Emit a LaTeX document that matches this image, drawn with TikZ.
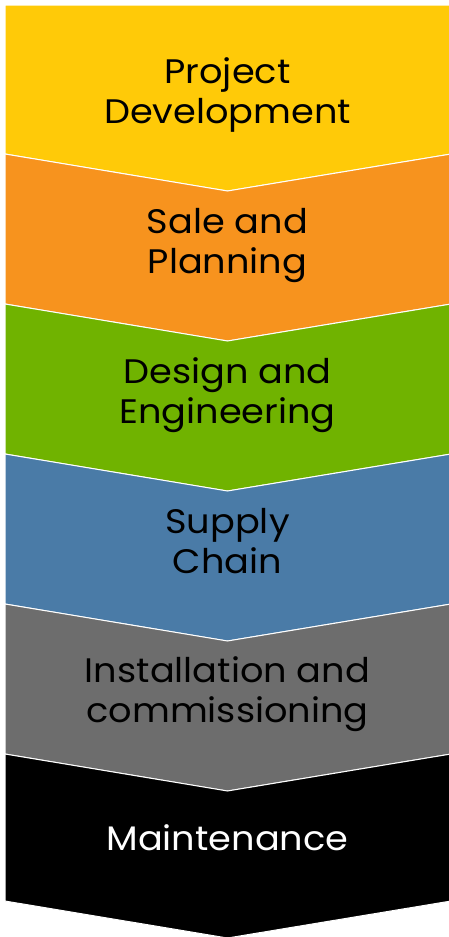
\documentclass[tikz,border=0pt]{standalone}
\usepackage{fontspec}
\setmainfont{Poppins}[FakeStretch=1.08]
\definecolor{cyellow}{HTML}{FFCA08}
\definecolor{corange}{HTML}{F7931E}
\definecolor{cgreen}{HTML}{70B300}
\definecolor{cblue}{HTML}{4A7BA7}
\definecolor{cgray}{HTML}{6D6D6D}
\definecolor{cblack}{HTML}{000000}
\begin{document}
\begin{tikzpicture}[x=1pt,y=-1pt,
  chev/.style={draw=white,line width=1pt,line join=miter},
  lbl/.style={font=\fontsize{34}{40}\selectfont,align=center,text=black,anchor=base,inner sep=0pt}]
\useasboundingbox (0,0) rectangle (449,937);
\clip (0,0) rectangle (449,937);
% shapes
\fill[white] (0,0) rectangle (449,937);
\path[chev,fill=cyellow] (5,5) -- (451,5) -- (451,154) -- (227.5,191) -- (5,154) -- cycle;
\path[chev,fill=corange] (5,154) -- (227.5,191) -- (451,154) -- (451,304) -- (227.5,341) -- (5,304) -- cycle;
\path[chev,fill=cgreen] (5,304) -- (227.5,341) -- (451,304) -- (451,454) -- (227.5,491) -- (5,454) -- cycle;
\path[chev,fill=cblue] (5,454) -- (227.5,491) -- (451,454) -- (451,604) -- (227.5,641) -- (5,604) -- cycle;
\path[chev,fill=cgray] (5,604) -- (227.5,641) -- (451,604) -- (451,754) -- (227.5,791) -- (5,754) -- cycle;
\path[chev,fill=cblack] (5,754) -- (227.5,791) -- (451,754) -- (451,901) -- (227.5,938) -- (5,901) -- cycle;
% labels (anchor=base is the baseline of the last line)
\node[lbl] (t1) at (227.5,123) {Project\\Development};
\node[lbl] (t2) at (227.5,273) {Sale and\\Planning};
\node[lbl] (t3) at (227.5,423) {Design and\\Engineering};
\node[lbl] (t4) at (227.5,573) {Supply\\Chain};
\node[lbl] (t5) at (227.5,722) {Installation and\\commissioning};
\node[lbl,text=white] (t6) at (227.5,850) {Maintenance};
\end{tikzpicture}
\end{document}
